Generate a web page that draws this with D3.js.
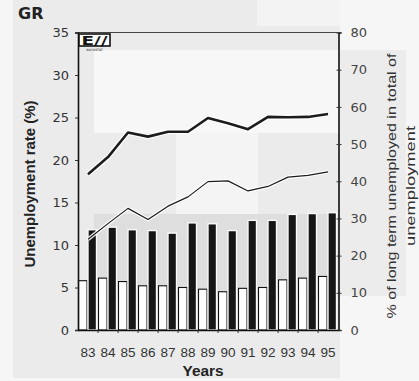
<!DOCTYPE html>
<html><head><meta charset="utf-8">
<script src="https://cdn.jsdelivr.net/npm/d3@7"></script>
<style>
html,body{margin:0;padding:0;background:#f6f6f6;}
svg{display:block;}
</style></head>
<body>
<svg id="c" width="419" height="381"></svg>
<script>
// ---- data ----
const years = ["83","84","85","86","87","88","89","90","91","92","93","94","95"];
const menRate   = [5.8, 6.1, 5.7, 5.2, 5.2, 5.0, 4.8, 4.5, 4.9, 5.0, 5.9, 6.1, 6.3];       // white bars, left axis
const womenRate = [11.8,12.1,11.8,11.7,11.4,12.6,12.5,11.7,12.9,12.9,13.6,13.7,13.8];     // black bars, left axis
const womenLTU  = [41.9,46.5,53.1,52.0,53.3,53.3,57.0,55.6,54.0,57.3,57.2,57.3,58.1];     // thick line, right axis
const menLTU    = [24.4,28.6,32.7,29.7,33.3,35.8,39.9,40.1,37.4,38.6,41.1,41.6,42.5];     // thin line, right axis
const leftTicks  = [0,5,10,15,20,25,30,35];
const rightTicks = [0,10,20,30,40,50,60,70,80];

const svg = d3.select("#c");
const X0 = 78, X1 = 338.5, Y0 = 330, Y1 = 32.5;

// background panels (scan tones)
const bg = svg.append("g");
bg.append("rect").attr("x",13).attr("y",0).attr("width",327).attr("height",378).attr("fill","#ebebeb");
bg.append("rect").attr("x",257).attr("y",0).attr("width",83).attr("height",26).attr("fill","#f3f3f3");
bg.append("rect").attr("x",340).attr("y",50).attr("width",66).attr("height",246).attr("fill","#ececec");
bg.append("rect").attr("x",94).attr("y",50).attr("width",246).attr("height",83).attr("fill","#f7f7f7");
bg.append("rect").attr("x",176).attr("y",133).attr("width",82).attr("height",81).attr("fill","#f4f4f4");
bg.append("rect").attr("x",94).attr("y",214).attr("width",246).attr("height",84).attr("fill","#dedede");

// scales
const x = d3.scaleBand().domain(years).range([X0, X0 + 20*years.length]).padding(0);
const xs = d3.scaleBand().domain(["m","f"]).range([0.5, 18.5]).paddingInner(0.1);
const yL = d3.scaleLinear().domain([0,35]).range([Y0, Y1]);
const yR = d3.scaleLinear().domain([0,80]).range([Y0, Y1]);

// bars
const gBars = svg.append("g");
years.forEach((yr,i)=>{
  gBars.append("rect")
    .attr("x", x(yr)+xs("m")).attr("y", yL(menRate[i]))
    .attr("width", xs.bandwidth()).attr("height", Y0 - yL(menRate[i]))
    .attr("fill","#fff").attr("stroke","#111").attr("stroke-width",1.1);
  gBars.append("rect")
    .attr("x", x(yr)+xs("f")).attr("y", yL(womenRate[i]))
    .attr("width", xs.bandwidth()).attr("height", Y0 - yL(womenRate[i]))
    .attr("fill","#161616").attr("stroke","#fafafa").attr("stroke-width",1.4);
});

// lines
const cx = d => x(d) + x.bandwidth()/2;
const lineGen = vals => d3.line().x((d,i)=>cx(years[i])).y(d=>yR(d))(vals);
function drawLine(vals, w){
  svg.append("path").attr("d", lineGen(vals)).attr("fill","none")
    .attr("stroke","#fff").attr("stroke-width", w+2.5).attr("stroke-linejoin","round").attr("opacity",0.9);
  svg.append("path").attr("d", lineGen(vals)).attr("fill","none")
    .attr("stroke","#1c1c1c").attr("stroke-width", w).attr("stroke-linejoin","round");
}
drawLine(menLTU, 1.2);
drawLine(womenLTU, 2.6);

// frame top
svg.append("line").attr("x1",X0).attr("x2",X1).attr("y1",Y1).attr("y2",Y1)
  .attr("stroke","#444").attr("stroke-width",1);

// left axis
const axL = svg.append("g").attr("transform",`translate(${X0},0)`)
  .call(d3.axisLeft(yL).tickValues(leftTicks).tickSize(3).tickPadding(6).tickFormat(d3.format("d")));
axL.select(".domain").attr("stroke","#111").attr("stroke-width",1.6);
axL.selectAll(".tick line").attr("stroke","#333");
axL.selectAll("text").attr("font-family","DejaVu Sans").attr("font-size",13).attr("fill","#333");

// right axis
const axR = svg.append("g").attr("transform",`translate(${X1},0)`)
  .call(d3.axisRight(yR).tickValues(rightTicks).tickSize(3).tickPadding(9).tickFormat(d3.format("d")));
axR.select(".domain").attr("stroke","#111").attr("stroke-width",1.6);
axR.selectAll(".tick line").attr("stroke","#333").attr("x1",-2);
axR.selectAll("text").attr("font-family","DejaVu Sans").attr("font-size",13).attr("fill","#444");

// bottom axis
const axB = svg.append("g").attr("transform",`translate(0,${Y0})`)
  .call(d3.axisBottom(x).tickSize(0).tickPadding(17));
axB.select(".domain").attr("stroke","#111").attr("stroke-width",1.6);
axB.selectAll("text").attr("font-family","Liberation Sans").attr("font-size",13.5).attr("fill","#333");
svg.append("g").selectAll("line").data(years.slice(1)).join("line")
  .attr("x1",d=>x(d)).attr("x2",d=>x(d)).attr("y1",Y0).attr("y2",Y0+3)
  .attr("stroke","#333").attr("stroke-width",1);

// logo
const lg = svg.append("g").attr("transform",`translate(${X0+1},${Y1+1.5})`);
lg.append("rect").attr("width",31).attr("height",12).attr("fill","#fff").attr("stroke","#111").attr("stroke-width",1.6);
lg.append("text").attr("x",15.5).attr("y",10.8).attr("text-anchor","middle")
  .attr("font-family","DejaVu Sans").attr("font-weight","bold")
  .attr("font-size",12).attr("textLength",26).attr("lengthAdjust","spacingAndGlyphs")
  .attr("fill","#111").text("E\u2215/");
lg.append("text").attr("x",15.5).attr("y",16.5).attr("text-anchor","middle")
  .attr("font-family","DejaVu Sans").attr("font-size",4).attr("fill","#333").text("eurostat");

// titles
svg.append("text").attr("x",18).attr("y",19).attr("font-family","DejaVu Sans").attr("font-weight","bold")
  .attr("font-size",16).attr("fill","#222").text("GR");
svg.append("text").attr("transform","translate(35,184) rotate(-90)").attr("text-anchor","middle")
  .attr("font-family","Liberation Sans").attr("font-weight","bold").attr("font-size",14)
  .attr("textLength",167).attr("lengthAdjust","spacingAndGlyphs").attr("fill","#222")
  .text("Unemployment rate (%)");
svg.append("text").attr("transform","translate(396,186) rotate(-90)").attr("text-anchor","middle")
  .attr("font-family","Liberation Sans").attr("font-size",13)
  .attr("textLength",265).attr("lengthAdjust","spacingAndGlyphs").attr("fill","#333")
  .text("% of long term unemployed in total of");
svg.append("text").attr("transform","translate(415,186) rotate(-90)").attr("text-anchor","middle")
  .attr("font-family","Liberation Sans").attr("font-size",13)
  .attr("textLength",120).attr("lengthAdjust","spacingAndGlyphs").attr("fill","#333")
  .text("unemployment");
svg.append("text").attr("x",203).attr("y",376).attr("text-anchor","middle")
  .attr("font-family","Liberation Sans").attr("font-weight","bold").attr("font-size",14)
  .attr("textLength",41).attr("lengthAdjust","spacingAndGlyphs").attr("fill","#222").text("Years");
</script>
</body></html>
